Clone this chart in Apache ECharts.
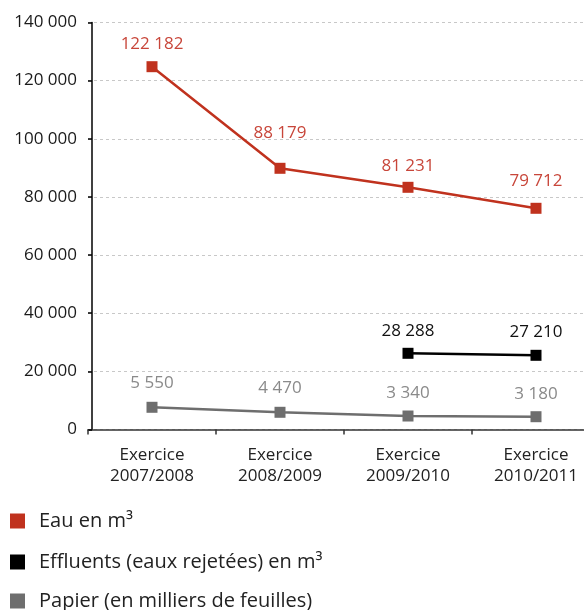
<!DOCTYPE html>
<html>
<head>
<meta charset="utf-8">
<script src="https://cdn.jsdelivr.net/npm/echarts@6/dist/echarts.min.js"></script>
<style>
html,body{margin:0;padding:0;background:#fff;}
#chart{width:584px;height:610px;}
</style>
</head>
<body>
<div id="chart"></div>
<script>
// ---- data ----
var categories = ['Exercice\n2007/2008', 'Exercice\n2008/2009', 'Exercice\n2009/2010', 'Exercice\n2010/2011'];
var seriesNames = ['Eau en m³', 'Effluents (eaux rejetées) en m³', 'Papier (en milliers de feuilles)'];
// plotted positions as drawn in the reference
var eauValues = [124800, 89850, 83310, 76090];
var effluentsValues = [null, null, 26210, 25520];
var papierValues = [7640, 5920, 4640, 4400];
// printed data labels
var eauLabels = ['122 182', '88 179', '81 231', '79 712'];
var effluentsLabels = ['', '', '28 288', '27 210'];
var papierLabels = ['5 550', '4 470', '3 340', '3 180'];
var yMin = 0, yMax = 140000, yStep = 20000;

// label placement (styling, kept apart from the data)
var eauLabelDistance = [9, 21, 7, 13];
var effluentsLabelDistance = [9, 9, 8, 9];
var papierLabelDistance = [10, 10, 9, 9];

function fmt(v) {
  return String(v).replace(/\B(?=(\d{3})+(?!\d))/g, ' ');
}
var FONT = '"Open Sans", "Noto Sans", sans-serif';

function mkSeries(name, data, labels, distances, color, labelColor) {
  return {
    name: name,
    type: 'line',
    data: data.map(function (v, i) {
      return { value: v, label: { distance: distances[i] } };
    }),
    symbol: 'rect',
    symbolSize: 11,
    connectNulls: false,
    itemStyle: { color: color },
    lineStyle: { color: color, width: 2.5 },
    label: {
      show: true,
      position: 'top',
      distance: 9,
      fontFamily: FONT,
      fontSize: 17,
      color: labelColor,
      formatter: function (p) { return labels[p.dataIndex]; }
    },
    emphasis: { disabled: true },
    animation: false
  };
}

function mkLegend(name, top) {
  return {
    orient: 'vertical',
    left: 10,
    top: top,
    padding: 0,
    icon: 'rect',
    itemWidth: 15,
    itemHeight: 15,
    selectedMode: false,
    textStyle: { fontFamily: FONT, fontSize: 20, color: '#222', padding: [0, 0, 0, 9] },
    data: [name]
  };
}

var chart = echarts.init(document.getElementById('chart'), null, { renderer: 'canvas' });
chart.setOption({
  backgroundColor: '#ffffff',
  animation: false,
  grid: { left: 88, top: 22.5, width: 512, height: 407, containLabel: false, outerBoundsMode: 'none' },
  legend: [
    mkLegend(seriesNames[0], 511),
    mkLegend(seriesNames[1], 552),
    mkLegend(seriesNames[2], 591)
  ],
  xAxis: {
    type: 'category',
    data: categories,
    boundaryGap: true,
    axisLine: { show: true, lineStyle: { color: '#333', width: 1.5 } },
    axisTick: { show: true, length: 5, lineStyle: { color: '#333', width: 1.5 } },
    axisLabel: { fontFamily: FONT, fontSize: 17, lineHeight: 21, color: '#222', margin: 15 },
    splitLine: { show: false }
  },
  yAxis: {
    type: 'value',
    min: yMin,
    max: yMax,
    interval: yStep,
    offset: -4,
    axisLine: { show: true, lineStyle: { color: '#000', width: 1.5 } },
    axisTick: { show: true, length: 4, lineStyle: { color: '#000', width: 1.5 } },
    axisLabel: { fontFamily: FONT, fontSize: 17, color: '#1a1a1a', margin: 15, formatter: fmt },
    splitLine: { show: true, lineStyle: { color: '#c8c8c8', width: 1, type: [3, 3] } }
  },
  series: [
    mkSeries(seriesNames[0], eauValues, eauLabels, eauLabelDistance, '#c0321e', '#c8463a'),
    mkSeries(seriesNames[1], effluentsValues, effluentsLabels, effluentsLabelDistance, '#000000', '#111111'),
    mkSeries(seriesNames[2], papierValues, papierLabels, papierLabelDistance, '#6e6e6e', '#8a8a8a')
  ]
});
</script>
</body>
</html>
